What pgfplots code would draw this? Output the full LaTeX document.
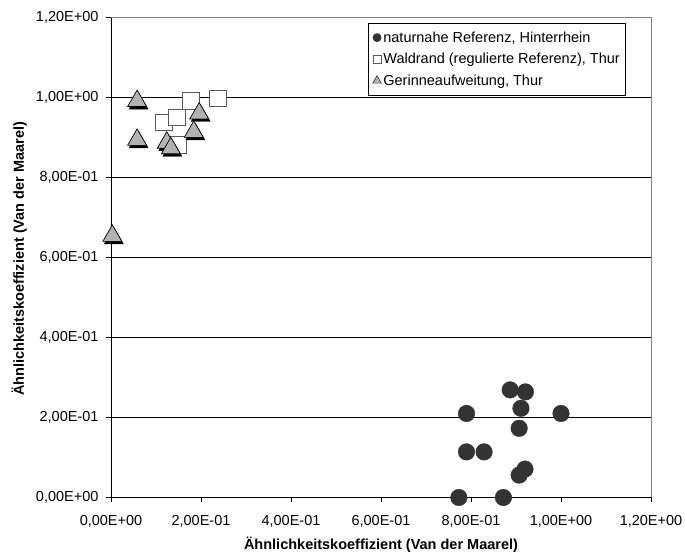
\documentclass[border=0pt]{standalone}
\usepackage{fontspec}
\setmainfont{Liberation Sans}
\usepackage{pgfplots}
\pgfplotsset{compat=1.18}
\usepackage{pgfplotstable}
\definecolor{circ}{HTML}{333333}
\definecolor{tri}{HTML}{B2B2B2}
\definecolor{sqedge}{HTML}{5A5A5A}
\definecolor{framec}{HTML}{808080}

\pgfplotstableread{
x y
0.773 0.000
0.790 0.210
0.790 0.114
0.829 0.114
0.872 0.000
0.887 0.269
0.921 0.264
0.911 0.223
0.907 0.173
0.907 0.056
0.920 0.071
1.000 0.210
}\natur

\pgfplotstableread{
x y
0.118 0.938
0.146 0.950
0.178 0.992
0.238 0.998
0.150 0.881
}\wald

\pgfplotstableread{
x y
0.058 0.991
0.058 0.894
0.124 0.887
0.133 0.873
0.184 0.914
0.196 0.960
0.003 0.654
}\gerinne

\begin{document}
\begin{tikzpicture}[x=1pt,y=1pt]
\useasboundingbox (-111,-55.5) rectangle (574,497.5);
\begin{axis}[
  at={(0,0)}, anchor=south west,
  scale only axis, width=540pt, height=480pt,
  xmin=0, xmax=1.2, ymin=0, ymax=1.2,
  axis x line*=bottom, axis y line*=left,
  axis line style={black, line width=0.8pt, -},
  xtick={0,0.2,0.4,0.6,0.8,1.0,1.2},
  ytick={0,0.2,0.4,0.6,0.8,1.0,1.2},
  xticklabels={{0,00E+00},{2,00E-01},{4,00E-01},{6,00E-01},{8,00E-01},{1,00E+00},{1,20E+00}},
  yticklabels={{0,00E+00},{2,00E-01},{4,00E-01},{6,00E-01},{8,00E-01},{1,00E+00},{1,20E+00}},
  tick align=outside, major tick length=5pt,
  tick style={black, line width=0.8pt},
  ticklabel style={font=\fontsize{14.5}{17}\selectfont},
  xticklabel style={yshift=-9pt},
  yticklabel style={xshift=-4pt},
  ymajorgrids, grid style={black, line width=0.8pt},
  xlabel={Ähnlichkeitskoeffizient (Van der Maarel)},
  ylabel={Ähnlichkeitskoeffizient (Van der Maarel)},
  every axis x label/.style={at={(axis description cs:0.5,-0.099)}, anchor=center, font=\fontsize{14.5}{17}\selectfont\bfseries},
  every axis y label/.style={at={(axis description cs:-0.170,0.497)}, anchor=center, rotate=90, font=\fontsize{14.5}{17}\selectfont\bfseries},
  legend style={at={(0.954,0.989)}, anchor=north east, draw=black, line width=0.8pt,
    font=\fontsize{14.5}{17}\selectfont, row sep=5.5pt, inner xsep=4pt, inner ysep=6.5pt,
    /tikz/every even column/.append style={column sep=0pt}},
  legend cell align=left,
  clip=false,
]
\draw[framec, line width=0.8pt] (rel axis cs:0,1) -- (rel axis cs:1,1) -- (rel axis cs:1,0);
\addplot[only marks, mark=*, mark size=8.3pt, draw=circ, fill=circ, forget plot] table[x=x,y=y] {\natur};
\addplot[only marks, mark=square*, mark size=8.3pt, mark options={draw=sqedge, fill=white, line width=0.7pt}, forget plot] table[x=x,y=y] {\wald};
\addplot[only marks, mark=triangle*, mark size=11pt, mark options={draw=black, fill=black, xshift=1.5pt, yshift=-2.5pt}, forget plot] table[x=x,y=y] {\gerinne};
\addplot[only marks, mark=triangle*, mark size=11pt, mark options={draw=black, fill=tri, line width=0.7pt}, forget plot] table[x=x,y=y] {\gerinne};
\addlegendimage{only marks, mark=*, mark size=4pt, draw=circ, fill=circ}
\addlegendentry{naturnahe Referenz, Hinterrhein}
\addlegendimage{only marks, mark=square*, mark size=4pt, mark options={draw=sqedge, fill=white, line width=0.6pt}}
\addlegendentry{Waldrand (regulierte Referenz), Thur}
\addlegendimage{only marks, mark=triangle*, mark size=5pt, mark options={draw=circ, fill=tri, line width=0.6pt}}
\addlegendentry{Gerinneaufweitung, Thur}
\end{axis}
\end{tikzpicture}
\end{document}
